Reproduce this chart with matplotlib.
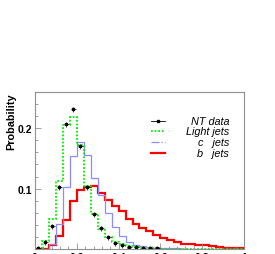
import numpy as np
import matplotlib
matplotlib.use('Agg')
from matplotlib import pyplot as plt, ticker
from matplotlib.lines import Line2D

plt.rcParams['font.family'] = ['Liberation Sans', 'DejaVu Sans']

# 30 bins from 0 to 1
edges = np.linspace(0, 1, 31)
light = [0.002, 0.014, 0.050, 0.112, 0.205, 0.218, 0.172, 0.104, 0.058, 0.033,
         0.020, 0.012, 0.008, 0.005, 0.003, 0.002, 0.001, 0.001, 0.0, 0.0,
         0.0, 0.0, 0.0, 0.0, 0.0, 0.0, 0.0, 0.0, 0.0, 0.0]
cjets = [0.0, 0.0, 0.008, 0.042, 0.103, 0.154, 0.178, 0.155, 0.117, 0.090,
         0.060, 0.037, 0.022, 0.012, 0.007, 0.005, 0.003, 0.002, 0.001, 0.001,
         0.001, 0.0, 0.0, 0.0, 0.0, 0.0, 0.0, 0.0, 0.0, 0.0]
bjets = [0.0, 0.0, 0.007, 0.021, 0.048, 0.079, 0.097, 0.103, 0.104, 0.093,
         0.081, 0.071, 0.063, 0.049, 0.042, 0.034, 0.030, 0.023, 0.018, 0.015,
         0.012, 0.009, 0.0077, 0.0066, 0.006, 0.005, 0.004, 0.002, 0.0015, 0.001]
ntdata = [0.002, 0.012, 0.038, 0.102, 0.207, 0.232, 0.171, 0.102, 0.058, 0.034,
          0.020, 0.010, 0.007, 0.004, 0.003, 0.002, 0.001, 0.001]
xticks = [0, 0.2, 0.4, 0.6, 0.8, 1.0]
xticklabels = ['0', '0.2', '0.4', '0.6', '0.8', '1']
yticks = [0.1, 0.2]
yticklabels = ['0.1', '0.2']

GREEN = '#00ee00'
BLUE = '#8c8cff'
RED = '#ff0000'
FRAME = '#909090'

fig = plt.figure(figsize=(2.75, 2.55), dpi=100)
ax = fig.add_axes([35/275, 5/255, 209/275, 157/255])

ax.stairs(bjets, edges, color=RED, lw=1.6)
ax.stairs(cjets, edges, color=BLUE, lw=0.9)
ax.stairs(light, edges, color=GREEN, lw=1.3, ls=(0, (1, 1)))
centers = 0.5*(edges[:-1]+edges[1:])[:len(ntdata)]
ax.plot(centers, ntdata, ls='none', marker='+', ms=3.6, mew=0.5, c='k')
ax.plot(centers, ntdata, ls='none', marker='s', ms=1.8, c='k')

ax.set_xlim(0, 1)
ax.set_ylim(0, 0.26)
ax.set_xticks(xticks)
ax.set_xticklabels(xticklabels)
ax.set_yticks(yticks)
ax.set_yticklabels(yticklabels)
ax.xaxis.set_minor_locator(ticker.MultipleLocator(0.04))
ax.yaxis.set_minor_locator(ticker.MultipleLocator(0.02))
ax.tick_params(which='both', direction='in', color=FRAME, width=0.6,
               top=False, right=False)
ax.tick_params(which='major', length=4, labelsize=7.5, pad=2)
ax.tick_params(which='minor', length=2.2)
for lab in ax.get_xticklabels()+ax.get_yticklabels():
    lab.set_fontweight('bold')
for s in ax.spines.values():
    s.set_color(FRAME)
    s.set_linewidth(0.8)

fig.text(11/275, 1-93/255, 'Probability', rotation=90, ha='center', va='top',
         fontsize=7.8, fontweight='bold')

# legend drawn by hand so that the labels are right aligned
rows = [0.817, 0.750, 0.680, 0.610]
labels = ['NT data', 'Light jets', 'c   jets', 'b   jets']
styles = [dict(c='k', lw=0.6, marker='s', ms=1.8, markevery=[1]),
          dict(c=GREEN, lw=1.3, ls=(0, (1, 1))),
          dict(c=BLUE, lw=0.9, ls='-.'),
          dict(c=RED, lw=1.6)]
for y, lab, st in zip(rows, labels, styles):
    ax.add_line(Line2D([0.554, 0.588, 0.622], [y, y, y], transform=ax.transAxes, **st))
    ax.text(0.93, y, lab, transform=ax.transAxes, ha='right', va='center',
            fontsize=7.8, style='italic')

fig.savefig('out.png', dpi=100)
